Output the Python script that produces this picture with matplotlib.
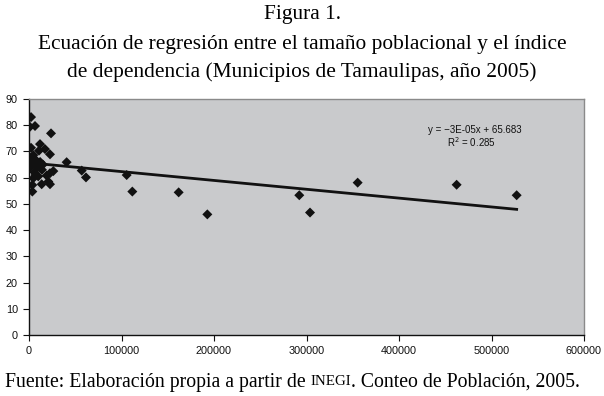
import matplotlib
matplotlib.use("Agg")
import matplotlib.pyplot as plt
import numpy as np

# poblacion (x) vs indice de dependencia (y), municipios de Tamaulipas 2005
poblacion = [
    2200, 1000, 6500, 23800, 11900, 2200, 17300, 10800, 22700, 4700,
    1000, 8000, 12000, 5000, 15000, 3000, 9000, 500, 14000, 26300,
    22700, 6000, 19100, 10000, 4700, 20900, 13700, 22700, 3600, 3600,
    7000, 2000,
    40700, 57000, 61600,
    105600, 111700, 161800, 192800, 292200, 303800, 355300, 462300, 527200,
]
dependencia = [
    83.1, 79.4, 79.7, 76.9, 72.8, 71.4, 70.9, 70.3, 68.9, 68.6,
    67.6, 66.5, 66.0, 65.5, 65.0, 64.8, 64.2, 63.6, 63.0, 62.5,
    61.7, 62.0, 60.8, 60.5, 59.8, 58.5, 57.5, 57.5, 57.2, 54.7,
    61.0, 66.0,
    65.9, 62.7, 60.1,
    61.0, 54.7, 54.4, 46.0, 53.3, 46.7, 58.1, 57.3, 53.3,
]

# linea de tendencia
trend_slope = -3.37e-5
trend_intercept = 65.683
trend_x = [0, 527200]
eq_text = "y = \u22123E-05x + 65.683"
r2_text = "R$^2$ = 0.285"

title_lines = [
    "Figura 1.",
    "Ecuación de regresión entre el tamaño poblacional y el índice",
    "de dependencia (Municipios de Tamaulipas, año 2005)",
]

fig = plt.figure(figsize=(6.04, 3.96), dpi=100)
fig.patch.set_facecolor("white")
ax = fig.add_axes([29 / 604, 61 / 396, 555 / 604, 236 / 396])
ax.set_facecolor("#c9cacc")

tx = np.array(trend_x, dtype=float)
ax.plot(tx, trend_intercept + trend_slope * tx, color="#111111", lw=2.0, zorder=2)
ax.scatter(poblacion, dependencia, marker="D", s=26, color="#111111",
           edgecolors="none", zorder=3)

ax.set_xlim(0, 600000)
ax.set_ylim(0, 90)
ax.set_xticks(np.arange(0, 600001, 100000))
ax.set_yticks(np.arange(0, 91, 10))
ax.tick_params(direction="out", length=4, width=0.8, labelsize=7.8,
               colors="#111111", pad=4)
for lbl in ax.get_xticklabels() + ax.get_yticklabels():
    lbl.set_fontfamily("Liberation Sans")
for side in ("top", "right"):
    ax.spines[side].set_color("#8a8a8a")
    ax.spines[side].set_linewidth(1.0)
for side in ("left", "bottom"):
    ax.spines[side].set_color("#111111")
    ax.spines[side].set_linewidth(1.0)

ax.text(0.719, 0.855, eq_text, transform=ax.transAxes, fontsize=7,
        family="Liberation Sans", color="#111111")
ax.text(0.753, 0.795, r2_text, transform=ax.transAxes, fontsize=7,
        family="Liberation Sans", color="#111111")

serif = "Liberation Serif"
fig.text(0.5, 1 - 15 / 396, title_lines[0], ha="center", va="center",
         fontsize=15.4, family=serif)
fig.text(0.5, 1 - 44 / 396, title_lines[1], ha="center", va="center",
         fontsize=15.4, family=serif)
fig.text(0.5, 1 - 72 / 396, title_lines[2], ha="center", va="center",
         fontsize=15.4, family=serif)

# pie de figura, INEGI en versalitas (mas pequeno)
t1 = fig.text(5 / 604, 1 - 387 / 396, "Fuente: Elaboración propia a partir de ",
              fontsize=14.2, family=serif, va="baseline")
a2 = plt.annotate("INEGI", xycoords=t1, xy=(1, 0), xytext=(0, 3.1),
                  textcoords="offset points", va="bottom",
                  fontsize=10.8, family=serif, annotation_clip=False)
a3 = plt.annotate(". Conteo de Población, 2005.", xycoords=a2, xy=(1, 0),
                  xytext=(0, -3.1), textcoords="offset points",
                  va="bottom", fontsize=14.2, family=serif, annotation_clip=False)

fig.savefig("out.png", dpi=100)
